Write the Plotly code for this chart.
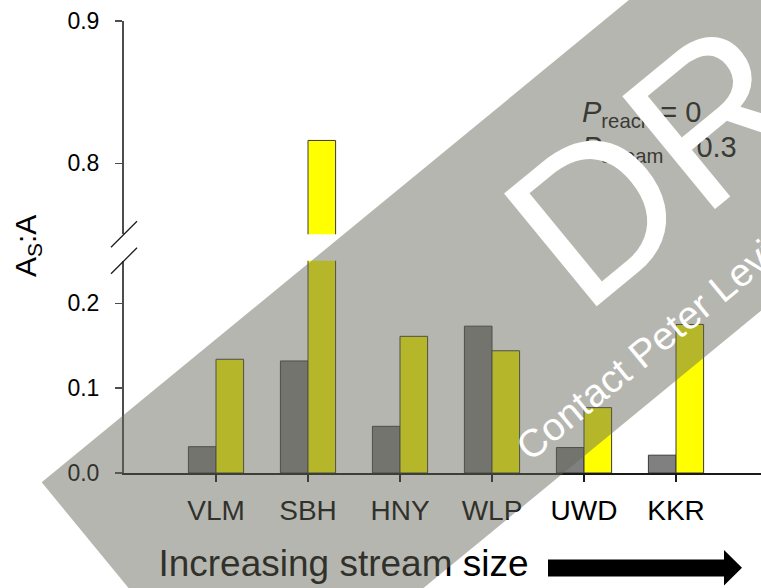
import math
import plotly.graph_objects as go

# ---------------- data ----------------
categories = ["VLM", "SBH", "HNY", "WLP", "UWD", "KKR"]
grey_values = [0.031, 0.132, 0.055, 0.173, 0.030, 0.021]
yellow_values = [0.134, 0.816, 0.161, 0.144, 0.077, 0.175]
lower_ticks = [0.0, 0.1, 0.2]
upper_ticks = [0.8, 0.9]
lower_range = [0.0, 0.25]
upper_range = [0.75, 0.9]
x_title = "Increasing stream size"
y_title = "A<sub>S</sub>:A"
param_lines = ["<i>P</i><sub>reach</sub> = 0", "<i>P</i><sub>stream</sub> = 0.3"]
watermark = "DRAFT"
watermark_note = "Contact Peter Levi"

positions = list(range(1, len(categories) + 1))

# ---------------- geometry helpers (pixels -> paper) ----------------
W_FIG, H_FIG = 761, 588
PL, PR, PT, PB = 124, 761, 21, 473
SLOT = 92.0
x_range = [0, (PR - PL) / SLOT]


def px(x):
    return (x - PL) / (PR - PL)


def py(y):
    return (PB - y) / (PB - PT)


def data_x(xpix):
    return (xpix - PL) / SLOT


FONT = "Liberation Sans, Arial, sans-serif"
GREY = "#808080"
YELLOW = "#FFFF00"
OUTLINE = "#3a3a3a"

fig = go.Figure()
for yax in ["y", "y2"]:
    fig.add_trace(go.Bar(x=positions, y=grey_values, name="grey", yaxis=yax,
                         marker=dict(color=GREY, line=dict(color=OUTLINE, width=1)),
                         showlegend=False, hoverinfo="skip"))
    fig.add_trace(go.Bar(x=positions, y=yellow_values, name="yellow", yaxis=yax,
                         marker=dict(color=YELLOW, line=dict(color=OUTLINE, width=1)),
                         showlegend=False, hoverinfo="skip"))

# invisible helper trace so the overlaying axis that carries the x title is drawn
fig.add_trace(go.Scatter(x=[], y=[], xaxis="x2", yaxis="y", showlegend=False, hoverinfo="skip"))

lower_top = 260.8
upper_bottom = 234.3

fig.update_layout(
    width=W_FIG, height=H_FIG,
    margin=dict(l=PL, r=W_FIG - PR, t=PT, b=H_FIG - PB, pad=0),
    paper_bgcolor="white", plot_bgcolor="rgba(0,0,0,0)",
    barmode="group", bargap=0.4, bargroupgap=0,
    showlegend=False, hovermode=False, dragmode=False,
    font=dict(family=FONT, color="black"),
    xaxis=dict(range=x_range, tickmode="array", tickvals=positions, ticktext=categories,
               showline=True, linecolor="#1a1a1a", linewidth=2,
               ticks="outside", ticklen=7, tickwidth=1.3, tickcolor="#1a1a1a",
               tickfont=dict(size=28, color="black"), ticklabelstandoff=4,
               showgrid=False, zeroline=False, anchor="y", fixedrange=True),
    xaxis2=dict(range=x_range, overlaying="x", anchor="y", side="bottom",
                tickmode="array", tickvals=[data_x(343.5)], ticktext=[x_title],
                showline=False, ticks="", showgrid=False, zeroline=False,
                tickfont=dict(size=37, color="black"), ticklabelstandoff=65),
    yaxis=dict(domain=[0, py(lower_top)], range=lower_range, tickmode="array",
               tickvals=lower_ticks, tickformat=".1f",
               showline=True, linecolor="#4d4d4d", linewidth=2,
               ticks="outside", ticklen=7, tickwidth=1.3, tickcolor="#4d4d4d",
               tickfont=dict(size=23, color="black"), ticklabelstandoff=11,
               showgrid=False, zeroline=False, anchor="x"),
    yaxis2=dict(domain=[py(upper_bottom), 1], range=upper_range, tickmode="array",
                tickvals=upper_ticks, tickformat=".1f",
                showline=True, linecolor="#4d4d4d", linewidth=2,
                ticks="outside", ticklen=7, tickwidth=1.3, tickcolor="#4d4d4d",
                tickfont=dict(size=23, color="black"), ticklabelstandoff=11,
                showgrid=False, zeroline=False, anchor="x"),
)

shapes = []
# axis break marks
for cy in (upper_bottom, lower_top):
    shapes.append(dict(type="line", xref="paper", yref="paper",
                       x0=px(PL - 13), y0=py(cy + 13), x1=px(PL + 13), y1=py(cy - 13),
                       line=dict(color="#1a1a1a", width=1.3), layer="above"))

# arrow next to the x title
arrow = [(548, 559.5), (724, 559.5), (724, 550), (742, 567.7), (724, 585.5), (724, 576.5), (548, 576.5)]
arrow_path = "M " + " L ".join(f"{px(a):.5f},{py(b):.5f}" for a, b in arrow) + " Z"
shapes.append(dict(type="path", xref="paper", yref="paper", path=arrow_path,
                   fillcolor="black", line=dict(width=0), layer="above"))

# watermark band (rotated rectangle)
theta = math.radians(39.4)
u = (math.cos(theta), -math.sin(theta))
wv = (math.sin(theta), math.cos(theta))
A = (41.7, 482.3)
LEN, WID = 1400, 324
B = (A[0] + LEN * u[0], A[1] + LEN * u[1])
C = (B[0] + WID * wv[0], B[1] + WID * wv[1])
D = (A[0] + WID * wv[0], A[1] + WID * wv[1])
band_path = "M " + " L ".join(f"{px(a):.5f},{py(b):.5f}" for a, b in (A, B, C, D)) + " Z"
shapes.append(dict(type="path", xref="paper", yref="paper", path=band_path,
                   fillcolor="rgba(102,102,90,0.48)", line=dict(width=0), layer="above"))
fig.update_layout(shapes=shapes)

ann = []
ann.append(dict(text=y_title, xref="paper", yref="paper", x=px(27), y=py(246),
                xanchor="center", yanchor="middle", textangle=-90, showarrow=False,
                font=dict(size=30, color="black", family=FONT)))
for txt, cy in zip(param_lines, (113.5, 148.5)):
    ann.append(dict(text=txt, xref="paper", yref="paper", x=px(580), y=py(cy),
                    xanchor="left", yanchor="middle", showarrow=False, align="left",
                    font=dict(size=29, color="#3a3a35", family=FONT)))
ann.append(dict(text=watermark, xref="paper", yref="paper", x=px(809), y=py(36),
                xanchor="center", yanchor="middle", textangle=-39.4, showarrow=False,
                font=dict(size=212, color="white", family=FONT)))
ann.append(dict(text=watermark_note, xref="paper", yref="paper", x=px(645), y=py(350),
                xanchor="center", yanchor="middle", textangle=-39.4, showarrow=False,
                font=dict(size=39, color="white", family=FONT)))
fig.update_layout(annotations=ann)

fig.write_html("out.html",
               config={"displayModeBar": False, "staticPlot": True},
               post_script="document.body.style.margin='0';document.body.style.overflow='hidden';")
